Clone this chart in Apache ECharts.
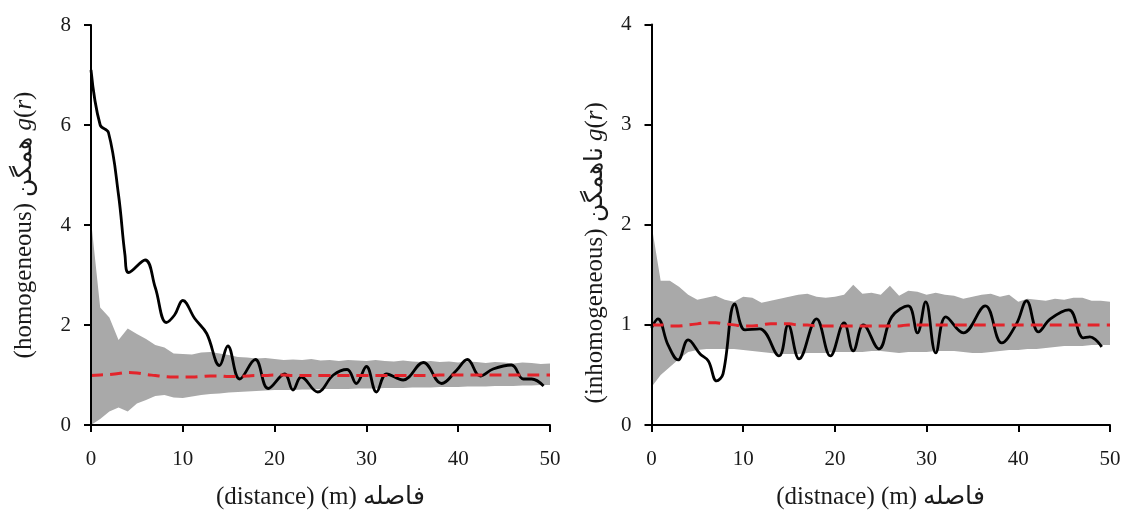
<!DOCTYPE html>
<html>
<head>
<meta charset="utf-8">
<script src="https://cdn.jsdelivr.net/npm/echarts@6/dist/echarts.min.js"></script>
<style>html,body{margin:0;padding:0;background:#fff}#c{width:1127px;height:515px}</style>
</head>
<body>
<div id="c"></div>
<script>
// ---------- DATA ----------
const envDist = [0,1,2,3,4,5,6,7,8,9,10,11,12,13,14,15,16,17,18,19,20,21,22,23,24,25,26,27,28,29,30,31,32,33,34,35,36,37,38,39,40,41,42,43,44,45,46,47,48,49,50];

// Left panel (homogeneous)
const homUpper = [4.1,2.35,2.15,1.7,1.93,1.82,1.72,1.6,1.55,1.43,1.42,1.41,1.45,1.46,1.43,1.4,1.36,1.35,1.33,1.34,1.32,1.3,1.31,1.3,1.32,1.29,1.3,1.28,1.3,1.29,1.28,1.3,1.28,1.27,1.29,1.27,1.26,1.28,1.26,1.27,1.25,1.27,1.26,1.24,1.26,1.25,1.23,1.25,1.24,1.22,1.23];
const homLower = [0.0,0.12,0.27,0.35,0.27,0.43,0.5,0.58,0.6,0.55,0.54,0.57,0.6,0.62,0.63,0.65,0.66,0.67,0.68,0.69,0.7,0.7,0.7,0.71,0.71,0.72,0.72,0.72,0.72,0.73,0.73,0.73,0.74,0.74,0.74,0.75,0.75,0.75,0.76,0.76,0.76,0.77,0.77,0.77,0.78,0.78,0.78,0.79,0.79,0.8,0.8];
const homTheory = [0.99,1.0,1.01,1.03,1.05,1.04,1.01,0.99,0.97,0.96,0.96,0.96,0.97,0.98,0.98,0.97,0.97,0.98,0.99,0.99,1.0,1.0,0.99,0.99,0.99,0.99,0.99,0.99,0.99,0.99,0.99,0.99,0.99,0.99,0.99,0.99,0.99,0.99,1.0,1.0,1.0,1.0,1.0,1.0,1.0,1.0,1.0,1.0,1.0,1.0,1.0];
const homObsDist = [0,1,1.9,3,3.7,4.1,5.9,7,8.2,9.1,10,11.3,12.6,14,14.9,16.2,17.9,19.3,21.1,22,22.9,24.7,26.4,27.9,28.9,30,31.1,32.2,34,36.2,38.2,39.8,41,42.4,43.8,45.8,47.1,48,49.3];
const homObs = [7.1,6.0,5.85,4.6,3.4,3.05,3.3,2.75,2.05,2.2,2.49,2.13,1.83,1.19,1.58,0.92,1.31,0.73,1.02,0.7,0.96,0.66,1.0,1.11,0.83,1.17,0.66,1.02,0.9,1.25,0.83,1.09,1.31,0.98,1.12,1.2,0.92,0.92,0.78];

// Right panel (inhomogeneous)
const inhUpper = [2.0,1.44,1.44,1.38,1.3,1.25,1.27,1.29,1.25,1.23,1.28,1.27,1.22,1.24,1.26,1.28,1.3,1.31,1.28,1.27,1.28,1.3,1.4,1.31,1.32,1.3,1.39,1.29,1.34,1.33,1.3,1.32,1.3,1.29,1.26,1.28,1.3,1.31,1.28,1.3,1.23,1.26,1.25,1.24,1.26,1.25,1.27,1.27,1.24,1.24,1.23];
const inhLower = [0.38,0.5,0.58,0.66,0.73,0.75,0.76,0.76,0.76,0.76,0.75,0.74,0.73,0.72,0.71,0.71,0.71,0.72,0.72,0.72,0.73,0.73,0.73,0.73,0.74,0.74,0.73,0.72,0.73,0.73,0.73,0.74,0.74,0.74,0.73,0.72,0.72,0.73,0.74,0.75,0.75,0.76,0.76,0.77,0.78,0.79,0.79,0.79,0.8,0.8,0.8];
const inhTheory = [1.0,1.0,0.99,0.99,1.0,1.01,1.02,1.02,1.01,1.0,0.99,0.99,1.0,1.01,1.01,1.01,1.0,1.0,0.99,0.99,0.99,0.99,0.99,0.99,0.99,0.99,0.99,0.99,1.0,1.0,1.0,1.0,1.0,1.0,1.0,1.0,1.0,1.0,1.0,1.0,1.0,1.0,1.0,1.0,1.0,1.0,1.0,1.0,1.0,1.0,1.0];
const inhObsDist = [0,0.7,1.8,2.9,4,5.3,6.2,7.1,7.8,9.1,10.2,11.8,13.9,14.9,16.1,18,19.5,21,22,23.1,24.8,26.2,28,29,29.9,31,32.1,34,36.4,38.2,39.8,40.9,42.2,43.5,45.5,47.1,47.8,49.1];
const inhObs = [0.97,1.06,0.8,0.65,0.85,0.71,0.64,0.44,0.51,1.21,0.95,0.96,0.69,1.0,0.66,1.06,0.69,1.02,0.74,1.0,0.76,1.08,1.19,0.92,1.23,0.72,1.08,0.92,1.19,0.82,1.01,1.24,0.93,1.06,1.15,0.87,0.88,0.78];

const xTicks = [0,10,20,30,40,50];
const leftYTicks = [0,2,4,6,8];
const rightYTicks = [0,1,2,3,4];
const xNameLeft = '(distance) (m) فاصله';
const xNameRight = '(distnace) (m) فاصله';
const yNameLeftText = '(homogeneous) همگن ';
const yNameRightText = '(inhomogeneous) ناهمگن ';

// ---------- BUILD ----------
const pair = (xs, ys) => xs.map((x, i) => [x, ys[i]]);

const FONT = 'Liberation Serif';
const TXT = '#1a1a1a';
const rich = { i: { fontStyle: 'italic', fontFamily: FONT, fontSize: 25, color: TXT } };

function xAxisCfg(gi, name) {
  return {
    type: 'value', gridIndex: gi, min: xTicks[0], max: xTicks[xTicks.length - 1], interval: xTicks[1] - xTicks[0], z: 10,
    name: name, nameLocation: 'middle', nameGap: 60,
    nameTextStyle: { fontFamily: FONT, fontSize: 25, color: TXT },
    axisLine: { show: true, lineStyle: { color: '#000', width: 2 } },
    axisTick: { show: true, inside: false, length: 7, lineStyle: { color: '#000', width: 2 } },
    axisLabel: { fontFamily: FONT, fontSize: 21, color: TXT, margin: 24 },
    splitLine: { show: false }
  };
}
function yAxisCfg(gi, ticks, text, gap, pad) {
  return {
    type: 'value', gridIndex: gi, min: ticks[0], max: ticks[ticks.length - 1], interval: ticks[1] - ticks[0], z: 10,
    name: text + '{i|g}({i|r})', nameLocation: 'middle', nameGap: gap,
    nameTextStyle: { fontFamily: FONT, fontSize: 25, color: TXT, rich: rich, padding: [0, pad, 0, 0] },
    axisLine: { show: true, lineStyle: { color: '#000', width: 2 } },
    axisTick: { show: true, inside: false, length: 7, lineStyle: { color: '#000', width: 2 } },
    axisLabel: { fontFamily: FONT, fontSize: 21, color: TXT, margin: 20 },
    splitLine: { show: false }
  };
}
function bandSeries(gi, lower, upper) {
  return {
    type: 'custom', xAxisIndex: gi, yAxisIndex: gi, coordinateSystem: 'cartesian2d',
    data: [[envDist[0], lower[0]]], silent: true, z: 1, clip: true,
    renderItem: function (params, api) {
      const pts = [];
      for (let i = 0; i < envDist.length; i++) pts.push(api.coord([envDist[i], upper[i]]));
      for (let i = envDist.length - 1; i >= 0; i--) pts.push(api.coord([envDist[i], lower[i]]));
      return { type: 'polygon', shape: { points: pts }, style: { fill: '#a9a9a9', stroke: null } };
    }
  };
}
function panelSeries(gi, lower, upper, theory, obsX, obs) {
  return [
    bandSeries(gi, lower, upper),
    { type: 'line', xAxisIndex: gi, yAxisIndex: gi, data: pair(obsX, obs), smooth: 0.4,
      symbol: 'none', lineStyle: { color: '#000', width: 2.8 }, z: 3 },
    { type: 'line', xAxisIndex: gi, yAxisIndex: gi, data: pair(envDist, theory), smooth: true,
      symbol: 'none', lineStyle: { color: '#e3242b', width: 3, type: [12, 7] }, z: 4 }
  ];
}

const chart = echarts.init(document.getElementById('c'), null, { renderer: 'canvas' });
chart.setOption({
  animation: false,
  backgroundColor: '#fff',
  grid: [
    { left: 91, top: 25, width: 459, height: 409 },
    { left: 651.5, top: 24.5, width: 458.5, height: 409.5 }
  ],
  xAxis: [xAxisCfg(0, xNameLeft), xAxisCfg(1, xNameRight)],
  yAxis: [
    yAxisCfg(0, leftYTicks, yNameLeftText, 54, 0),
    yAxisCfg(1, rightYTicks, yNameRightText, 44, 56)
  ],
  series: [].concat(
    panelSeries(0, homLower, homUpper, homTheory, homObsDist, homObs),
    panelSeries(1, inhLower, inhUpper, inhTheory, inhObsDist, inhObs)
  )
});
</script>
</body>
</html>
